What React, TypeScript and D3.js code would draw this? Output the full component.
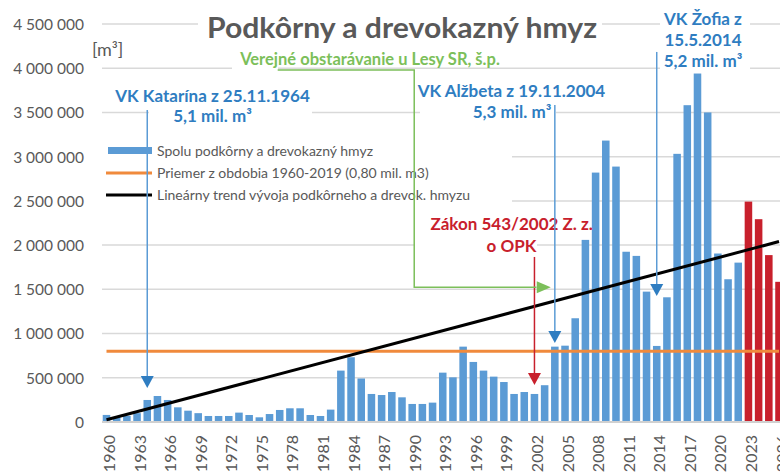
import React from "react";
import * as d3 from "d3";

const years = [
  1960, 1961, 1962, 1963, 1964, 1965, 1966, 1967, 1968, 1969,
  1970, 1971, 1972, 1973, 1974, 1975, 1976, 1977, 1978, 1979,
  1980, 1981, 1982, 1983, 1984, 1985, 1986, 1987, 1988, 1989,
  1990, 1991, 1992, 1993, 1994, 1995, 1996, 1997, 1998, 1999,
  2000, 2001, 2002, 2003, 2004, 2005, 2006, 2007, 2008, 2009,
  2010, 2011, 2012, 2013, 2014, 2015, 2016, 2017, 2018, 2019,
  2020, 2021, 2022, 2023, 2024, 2025, 2026,
];

const volumes = [
  80000, 55000, 70000, 100000, 249000, 294000, 249000, 166000, 128000, 100000,
  68000, 68000, 68000, 106000, 79000, 53000, 90000, 136000, 155000, 155000,
  79000, 68000, 140000, 581000, 732000, 492000, 317000, 305000, 339000, 279000,
  204000, 204000, 219000, 558000, 505000, 852000, 679000, 581000, 513000, 452000,
  317000, 339000, 317000, 416000, 852000, 863000, 1173000, 2059000, 2820000, 3182000,
  2888000, 1925000, 1878000, 1474000, 860000, 1410000, 3032000, 3582000, 3940000, 3500000,
  1905000, 1614000, 1802000, 2492000, 2293000, 1887000, 1585000,
];

const forecastYears = [2023, 2024, 2025, 2026];
const averageValue = 800000;
const trendValues = [25000, 2040000]; // 1960 -> 2026

const yTicks = [0, 500000, 1000000, 1500000, 2000000, 2500000, 3000000, 3500000, 4000000, 4500000];
const yTickLabels = ["0", "500 000", "1 000 000", "1 500 000", "2 000 000", "2 500 000", "3 000 000", "3 500 000", "4 000 000", "4 500 000"];
const xTickLabels = ["1960", "1963", "1966", "1969", "1972", "1975", "1978", "1981", "1984", "1987", "1990", "1993", "1996", "1999", "2002", "2005", "2008", "2011", "2014", "2017", "2020", "2023", "2026"];

const titleText = "Podkôrny a drevokazný hmyz";
const unitText = "[m³]";
const legendLabels = [
  "Spolu podkôrny a drevokazný hmyz",
  "Priemer z obdobia 1960-2019 (0,80 mil. m3)",
  "Lineárny trend vývoja podkôrneho a drevok. hmyzu",
];

const blueArrows = [
  { year: 1964, top: 3528000, tip: 384000 },
  { year: 2004, top: 3584000, tip: 893000 },
  { year: 2014, top: 4184000, tip: 1425000 },
];
const redArrow = { year: 2002, top: 1866000, tip: 418000 };

const FONT = "Lato, 'Open Sans', sans-serif";
const GRAY = "#595959";
const BLUE = "#5B9BD5";
const DARKBLUE = "#2F7DC1";
const RED = "#C8202C";
const GREEN = "#7CBF5A";
const ORANGE = "#F08A3C";

export default function App() {
  const W = 780;
  const H = 475;
  const x = d3
    .scaleBand<string>()
    .domain(years.map(String))
    .range([101.4, 784.1])
    .paddingInner(0.26)
    .paddingOuter(0.13);
  const y = d3.scaleLinear().domain([0, 4500000]).range([422, 24]);
  const cx = (yr: number) => (x(String(yr)) as number) + x.bandwidth() / 2;
  const step = x.step();
  const cxf = (yr: number) => cx(1960) + (yr - 1960) * step;

  const lineGen = d3
    .line<[number, number]>()
    .x((d) => cx(d[0]))
    .y((d) => y(d[1]));

  const arrowHead = (px: number, py: number, w = 6.5, h = 12) =>
    `${px - w},${py - h} ${px + w},${py - h} ${px},${py}`;

  const greenPts: [number, number][] = [
    [cxf(1976.8), y(3980000)],
    [cxf(1990.2), y(3980000)],
    [cxf(1990.2), y(1523000)],
    [cxf(2002.2), y(1523000)],
  ];
  const gTip = [cxf(2003.6), y(1523000)];

  return (
    <svg
      width={W}
      height={H}
      style={{ position: "absolute", left: 0, top: 0, background: "#fff" }}
      fontFamily={FONT}
    >
      <rect x={0} y={0} width={W} height={H} fill="#fff" />
      {/* gridlines */}
      {yTicks.slice(1).map((t) => (
        <line key={t} x1={102} x2={W} y1={y(t)} y2={y(t)} stroke="#D9D9D9" strokeWidth={1.5} />
      ))}
      {/* y tick labels */}
      {yTicks.map((t, i) => (
        <text key={t} x={84} y={y(t)} dy="0.38em" textAnchor="end" fontSize={15.5} fill={GRAY}>
          {yTickLabels[i]}
        </text>
      ))}
      <text x={92} y={56} fontSize={18} fill={GRAY}>{unitText}</text>

      {/* bars */}
      {years.map((yr, i) => (
        <rect
          key={yr}
          x={x(String(yr))}
          y={y(volumes[i])}
          width={x.bandwidth()}
          height={y(0) - y(volumes[i])}
          fill={forecastYears.includes(yr) ? RED : BLUE}
        />
      ))}
      {/* axis baseline */}
      <line x1={102} x2={W} y1={y(0)} y2={y(0)} stroke="#D0D0D0" strokeWidth={2} />

      {/* average line */}
      <path
        d={lineGen([[1960, averageValue], [2026, averageValue]]) || ""}
        stroke={ORANGE}
        strokeWidth={3}
        fill="none"
      />
      {/* trend line */}
      <path
        d={lineGen([[1960, trendValues[0]], [2026, trendValues[1]]]) || ""}
        stroke="#000"
        strokeWidth={3}
        fill="none"
      />

      {/* x tick labels */}
      {xTickLabels.map((lab) => (
        <text
          key={lab}
          transform={`translate(${cx(+lab) + 2},${435}) rotate(-90)`}
          textAnchor="end"
          dominantBaseline="central"
          fontSize={16}
          fill={GRAY}
        >
          {lab}
        </text>
      ))}

      {/* title */}
      <rect x={198} y={8} width={404} height={34} fill="#fff" />
      <text x={402} y={38} textAnchor="middle" fontSize={28} fontWeight={700} fill={GRAY} textLength={390} lengthAdjust="spacingAndGlyphs">
        {titleText}
      </text>

      {/* legend */}
      <rect x={100} y={136} width={412} height={70} fill="#fff" />
      <rect x={108} y={147} width={44} height={7} fill={BLUE} />
      <line x1={106} x2={152} y1={173} y2={173} stroke={ORANGE} strokeWidth={3} />
      <line x1={106} x2={152} y1={195} y2={195} stroke="#000" strokeWidth={3} />
      {legendLabels.map((l, i) => (
        <text key={l} x={157} y={155.5 + i * 22.2} fontSize={14} fill={GRAY}>
          {l}
        </text>
      ))}

      {/* annotation text boxes */}
      <rect x={149} y={86} width={163} height={41} fill="#fff" />
      <rect x={420} y={82} width={136} height={42} fill="#fff" />
      <rect x={660} y={8} width={90} height={64} fill="#fff" />
      <rect x={232} y={55} width={46} height={16} fill="#fff" />
      <rect x={415} y={212} width={122} height={44} fill="#fff" />

      {/* Katarína */}
      <text x={212.5} y={102} textAnchor="middle" fontSize={17} fontWeight={700} fill={DARKBLUE}>VK Katarína z 25.11.1964</text>
      <text x={212.5} y={122} textAnchor="middle" fontSize={17} fontWeight={700} fill={DARKBLUE}>5,1 mil. m³</text>
      {/* Alžbeta */}
      <text x={511.5} y={97} textAnchor="middle" fontSize={17} fontWeight={700} fill={DARKBLUE}>VK Alžbeta z 19.11.2004</text>
      <text x={512} y={118} textAnchor="middle" fontSize={17} fontWeight={700} fill={DARKBLUE}>5,3 mil. m³</text>
      {/* Žofia */}
      <text x={703} y={25} textAnchor="middle" fontSize={17} fontWeight={700} fill={DARKBLUE}>VK Žofia z</text>
      <text x={703} y={46} textAnchor="middle" fontSize={17} fontWeight={700} fill={DARKBLUE}>15.5.2014</text>
      <text x={703} y={67} textAnchor="middle" fontSize={17} fontWeight={700} fill={DARKBLUE}>5,2 mil. m³</text>
      {/* green */}
      <text x={370} y={65} textAnchor="middle" fontSize={16.5} fontWeight={700} fill={GREEN}>Verejné obstarávanie u Lesy SR, š.p.</text>
      {/* red */}
      <text x={511.7} y={229.5} textAnchor="middle" fontSize={17} fontWeight={700} fill={RED}>Zákon 543/2002 Z. z.</text>
      <text x={511.5} y={251.5} textAnchor="middle" fontSize={17} fontWeight={700} fill={RED}>o OPK</text>

      {/* arrows */}
      {blueArrows.map((a) => (
        <g key={a.year}>
          <line x1={cx(a.year)} x2={cx(a.year)} y1={y(a.top)} y2={y(a.tip) - 10} stroke={BLUE} strokeWidth={1.5} />
          <polygon points={arrowHead(cx(a.year), y(a.tip))} fill={DARKBLUE} />
        </g>
      ))}
      <line x1={cx(redArrow.year)} x2={cx(redArrow.year)} y1={y(redArrow.top)} y2={y(redArrow.tip) - 10} stroke={RED} strokeWidth={1.5} />
      <polygon points={arrowHead(cx(redArrow.year), y(redArrow.tip))} fill={RED} />

      <polyline points={greenPts.map((p) => p.join(",")).join(" ")} fill="none" stroke={GREEN} strokeWidth={1.5} />
      <polygon
        points={`${gTip[0] - 14},${gTip[1] - 6} ${gTip[0]},${gTip[1]} ${gTip[0] - 14},${gTip[1] + 6}`}
        fill={GREEN}
      />
    </svg>
  );
}
